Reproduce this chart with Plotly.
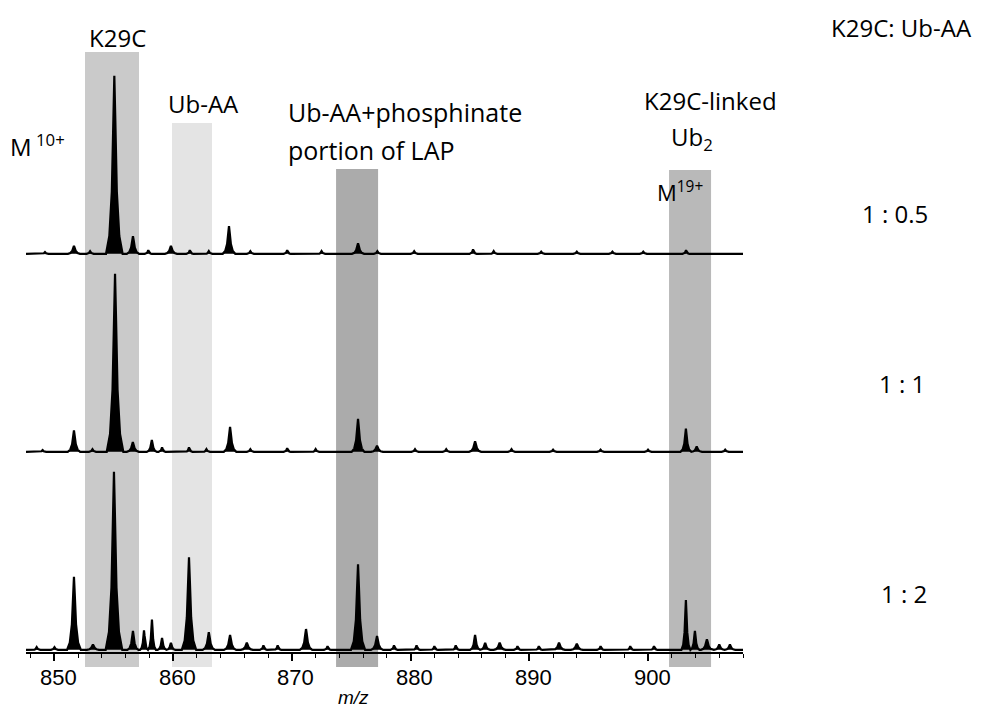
import plotly.graph_objects as go
from plotly.subplots import make_subplots

# ---------------- data ----------------
MZ_MIN, MZ_MAX = 847.6, 908.0

top_mz = [849.2, 851.64, 853.0, 855.04, 856.61, 857.9, 859.81, 861.4, 863.0, 864.7,
          866.5, 869.6, 872.5, 875.57, 877.2, 880.3, 885.26, 887.0, 891.0, 894.0,
          897.0, 899.6, 903.2]
top_int = [1.0, 4.5, 1.5, 100, 10, 2.0, 4.5, 2.0, 1.5, 15.6,
           1.5, 2.0, 1.5, 6.0, 1.5, 1.5, 2.5, 1.5, 1.2, 1.2,
           1.2, 1.2, 2.0]

mid_mz = [849.0, 851.64, 853.2, 855.1, 856.6, 858.2, 859.06, 861.33, 862.8, 864.79,
          866.5, 869.6, 872.0, 875.57, 877.17, 880.37, 883.0, 885.43, 888.5, 892.0,
          896.0, 900.0, 903.19, 904.1, 906.5]
mid_int = [1.0, 12, 1.5, 100, 5.5, 6.7, 2.5, 2.5, 1.5, 14,
           1.5, 2.0, 1.5, 18.5, 3.5, 1.5, 1.5, 6.0, 1.5, 1.2,
           1.2, 1.2, 13, 3.0, 1.2]

bot_mz = [848.5, 850.0, 851.64, 853.24, 855.01, 856.61, 857.54, 858.21, 859.06, 859.81,
          861.33, 863.0, 864.79, 866.2, 867.6, 868.8, 871.19, 873.0, 875.57, 877.17,
          878.6, 880.5, 882.0, 883.8, 885.43, 886.28, 887.5, 889.0, 890.8, 892.5,
          894.0, 896.0, 898.5, 900.5, 903.19, 903.95, 904.96, 906.0, 906.9]
bot_int = [1.5, 1.5, 41, 3.0, 100, 10.6, 11, 17, 6.7, 4.0,
           52, 10, 8.4, 4.0, 2.5, 2.5, 11.7, 2.0, 48, 7.8,
           2.5, 2.5, 2.0, 2.5, 8.4, 4.0, 4.0, 2.0, 2.0, 4.0,
           3.5, 2.0, 2.0, 2.0, 28, 10.6, 6.0, 3.0, 3.0]

spectra = [(top_mz, top_int), (mid_mz, mid_int), (bot_mz, bot_int)]
ratio_labels = ["1 : 0.5", "1 : 1", "1 : 2"]

# highlighted m/z windows: (start, end)
band_names = ["K29C", "Ub-AA", "Ub-AA+phosphinate", "Ub2"]
band_start = [852.57, 859.90, 873.72, 901.77]
band_end = [857.12, 863.27, 877.26, 905.31]

x_ticks = [850, 860, 870, 880, 890, 900]

# ---------------- helpers ----------------
W, H = 990, 710
ML, MR, MT, MB = 26, 247, 58, 58
PW, PH = W - ML - MR, H - MT - MB


def px(x):
    return (x - ML) / PW


def py(y):
    return (H - MB - y) / PH


def profile(mz, inten):
    """Spike-shaped outline of each listed peak, joined along the baseline."""
    offs = [-1, -0.6, -0.3, -0.12, 0, 0.12, 0.3, 0.6, 1]
    fr = [0, 0.1, 0.35, 0.75, 1, 0.75, 0.35, 0.1, 0]
    xs, ys = [MZ_MIN], [0]
    n = len(mz)
    for i, (c, h) in enumerate(zip(mz, inten)):
        w = 0.3 if h < 3 else 0.5 + 0.002 * h
        if i > 0:
            w = min(w, (c - mz[i - 1]) / 2)
        if i < n - 1:
            w = min(w, (mz[i + 1] - c) / 2)
        for o, f in zip(offs, fr):
            xs.append(c + o * w)
            ys.append(f * h)
    xs.append(MZ_MAX)
    ys.append(0)
    return xs, ys


fig = make_subplots(rows=3, cols=1, shared_xaxes=True, vertical_spacing=0)

for r, (mz, inten) in enumerate(spectra, start=1):
    xs, ys = profile(mz, inten)
    fig.add_trace(go.Scatter(x=xs, y=ys, mode="lines", fill="tozeroy",
                             fillcolor="black", line=dict(color="black", width=2.2),
                             hoverinfo="skip", showlegend=False), row=r, col=1)
    fig.update_yaxes(range=[-1.2, 110], visible=False, automargin=False, row=r, col=1)

for r in (1, 2):
    fig.update_xaxes(showline=False, ticks="", showticklabels=False, showgrid=False,
                     zeroline=False, row=r, col=1)

fig.update_xaxes(range=[MZ_MIN, MZ_MAX], showgrid=False, zeroline=False, automargin=False)
fig.update_xaxes(row=3, col=1, showline=True, linecolor="black", linewidth=2,
                 ticks="outside", ticklen=7, tickwidth=1.5, tickcolor="black",
                 tickvals=x_ticks, showticklabels=False,
                 minor=dict(dtick=2, ticks="outside", ticklen=4, tickcolor="black", tickwidth=1))

# tick labels placed under the ticks through the x scale
for t in x_ticks:
    fig.add_annotation(text=str(t), xref="x3", yref="paper", x=t, y=py(677),
                       xanchor="center", yanchor="middle", xshift=4, showarrow=False,
                       font=dict(family="Liberation Sans", size=22, color="black"))

# shaded windows
band_top = [52, 123, 169, 170]
band_color = ["#cacaca", "#e4e4e4", "#ababab", "#b9b9b9"]
for s, e, t, c in zip(band_start, band_end, band_top, band_color):
    fig.add_shape(type="rect", xref="x3", yref="paper", x0=s, x1=e,
                  y0=py(667), y1=py(t), fillcolor=c, line_width=0, layer="below")

FONT = "Open Sans"


def label(text, x, y, size=23, xanchor="center", family=FONT):
    fig.add_annotation(text=text, xref="paper", yref="paper", x=px(x), y=py(y),
                       xanchor=xanchor, yanchor="middle", showarrow=False,
                       font=dict(family=family, size=size, color="black"))


label("K29C", 117, 38, 24)
label("M<sup> 10+</sup>", 8, 145, 24, "left")
label("Ub-AA", 203, 103, 24)
label("Ub-AA+phosphinate", 286, 112, 25, "left")
label("portion of LAP", 286, 150, 25, "left")
label("K29C-linked", 710, 100, 24)
label("Ub<sub>2</sub>", 692, 138, 24)
label("M<sup>19+</sup>", 655, 191, 22, "left")
label("K29C: Ub-AA", 901, 28, 24)
for txt, x, y in zip(ratio_labels, [895, 902, 904], [213, 383, 593]):
    label(txt, x, y, 24)
label("<i>m/z</i>", 353, 697, 19, family="Liberation Sans")

fig.update_layout(width=W, height=H, margin=dict(l=ML, r=MR, t=MT, b=MB),
                  paper_bgcolor="white", plot_bgcolor="rgba(0,0,0,0)",
                  showlegend=False)

fig.write_html("out.html")
